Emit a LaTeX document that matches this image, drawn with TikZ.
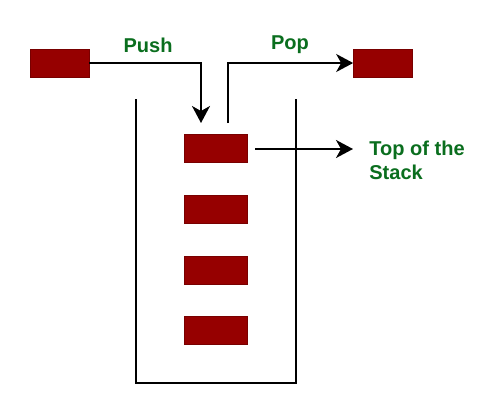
\documentclass[tikz,border=0pt]{standalone}
\usepackage{fontspec}
\setmainfont{Liberation Sans}
\usepackage{xcolor}
\usetikzlibrary{arrows.meta}
\definecolor{barred}{RGB}{150,0,0}
\definecolor{labelgreen}{RGB}{10,110,30}
\tikzset{
  bar/.style={draw=barred!80!black,fill=barred,rectangle,minimum width=1.18cm,minimum height=0.56cm,inner sep=0pt},
  stackbar/.style={bar,minimum width=1.26cm},
  tag/.style={text=labelgreen,font=\fontsize{11.4}{13.7}\selectfont\bfseries,inner sep=0pt},
  link/.style={line width=1.1pt,-{Stealth[length=0.34cm,width=0.36cm,inset=0.1cm]}}
}
\begin{document}
\begin{tikzpicture}[x={(0.02cm,0cm)}, y={(0cm,-0.02cm)}, baseline=0cm]
  \useasboundingbox (0,0) rectangle (500,400);
  % Nodes
  \node[bar] (InBar) at (59.5,63) {};
  \node[bar] (OutBar) at (383,63) {};
  \node[stackbar] (Top) at (215.5,148) {};
  \node[stackbar] (Second) at (215.5,209) {};
  \node[stackbar] (Third) at (215.5,270) {};
  \node[stackbar] (Bottom) at (215.5,330) {};
  \node[tag] (Push) at (148,45) {Push};
  \node[tag] (Pop) at (290,45) {Pop};
  \node[tag,anchor=west,align=left] (TopLabel) at (369,160) {Top of the\\Stack};
  \coordinate (PushEnd) at (201,123);
  \coordinate (PopStart) at (228,123);
  \coordinate (TopEnd) at (353,149);
  % Container
  \draw[line width=1.1pt] (136,99) -- (136,383) -- (296,383) -- (296,99);
  % Edges
  \draw[link] (InBar.east) -| (PushEnd);
  \draw[link] (PopStart) |- (OutBar.west);
  \draw[link] ([xshift=0.16cm]Top.east |- TopEnd) -- (TopEnd);
\end{tikzpicture}
\end{document}
